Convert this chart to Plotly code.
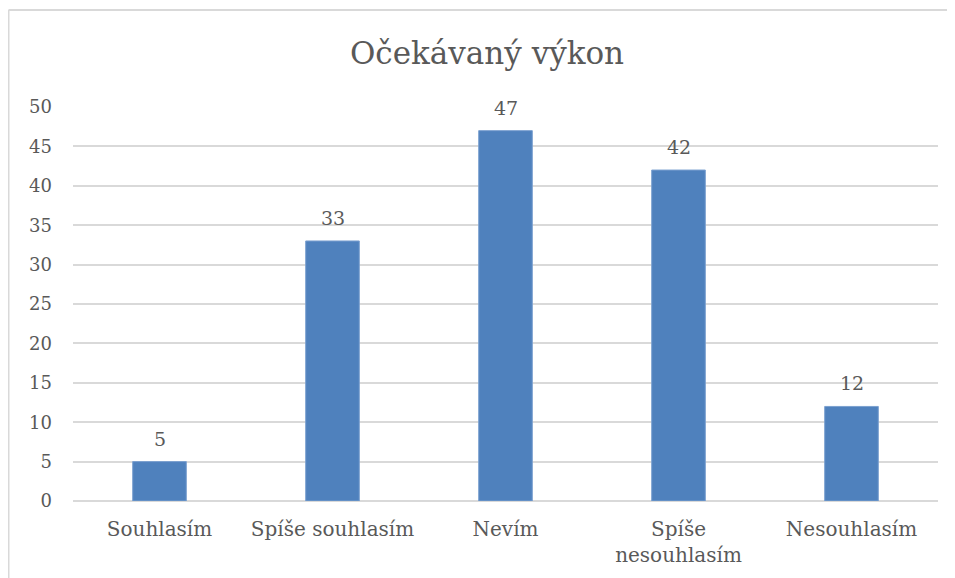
import plotly.graph_objects as go

TEXT = "#595959"
GRID = "#d9d9d9"
BAR = "#4f81bd"
FONT = "DejaVu Serif"

categories = ["Souhlasím", "Spíše souhlasím", "Nevím", "Spíše<br>nesouhlasím", "Nesouhlasím"]
counts = [5, 33, 47, 42, 12]

# the page body has an 8px margin, so the figure sits 8px right and down
W, H = 947, 570
L, R, T, B = 65, 17, 99, 77
PW, PH = W - L - R, H - T - B

fig = go.Figure(
    go.Bar(
        x=categories,
        y=counts,
        marker=dict(color=BAR, line=dict(color="#7ba0d0", width=1)),
        width=0.31,
        cliponaxis=False,
    )
)

for cat, n in zip(categories, counts):
    fig.add_annotation(
        x=cat,
        y=n,
        text=str(n),
        showarrow=False,
        yanchor="bottom",
        yshift=10,
        font=dict(family=FONT, size=19, color=TEXT),
    )

fig.update_layout(
    width=W,
    height=H,
    margin=dict(l=L, r=R, t=T, b=B),
    paper_bgcolor="white",
    plot_bgcolor="white",
    font=dict(family=FONT, size=18, color=TEXT),
    title=dict(
        text="Očekávaný výkon",
        x=(487 - 8) / W,
        xanchor="center",
        xref="container",
        y=1 - 45 / H,
        yanchor="middle",
        font=dict(family=FONT, size=31, color=TEXT),
    ),
    showlegend=False,
)
fig.update_yaxes(
    range=[0, 50],
    dtick=5,
    showgrid=True,
    gridcolor=GRID,
    gridwidth=1.5,
    zeroline=True,
    zerolinecolor=GRID,
    zerolinewidth=1.5,
    showline=False,
    ticklabelstandoff=20,
    tickfont=dict(family=FONT, size=18, color=TEXT),
)
fig.update_xaxes(
    showgrid=False,
    showline=False,
    ticklabelstandoff=14,
    tickfont=dict(family=FONT, size=20, color=TEXT),
)

# chart border: only the left and top edges are inside the picture
left = (0.5 - L) / PW
top = 1 + (T - 2) / PH
fig.add_shape(type="line", xref="paper", yref="paper",
              x0=left, x1=left, y0=-0.5, y1=top,
              line=dict(color=GRID, width=2), layer="below")
fig.add_shape(type="line", xref="paper", yref="paper",
              x0=left, x1=1.2, y0=top, y1=top,
              line=dict(color=GRID, width=2), layer="below")

# no scrollbars when the figure runs to the window edge
fig.write_html("out.html", post_script="document.body.style.overflow='hidden';")
